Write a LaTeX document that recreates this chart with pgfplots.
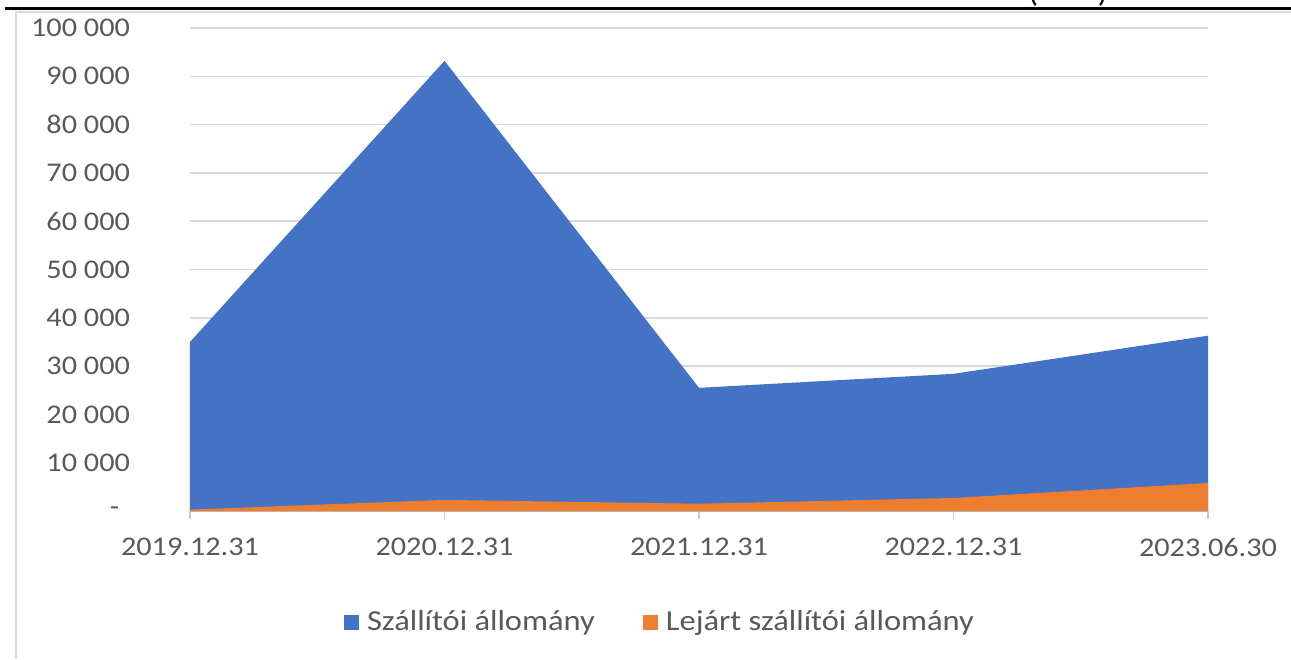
\documentclass[border=0pt]{standalone}
\usepackage{fontspec}
\setmainfont{Carlito}[FakeStretch=1.12]
\usepackage{pgfplots}
\pgfplotsset{compat=1.18}

\definecolor{sblue}{HTML}{4472C4}
\definecolor{sorange}{HTML}{ED7D31}
\definecolor{txt}{HTML}{595959}
\definecolor{gridc}{HTML}{D9D9D9}

\begin{document}
\begin{tikzpicture}
\path[use as bounding box] (0pt,0pt) rectangle (645.5pt,-329.5pt);
% bits of the surrounding page frame
\begin{scope}
  \clip (0pt,0pt) rectangle (645.5pt,-3.5pt);
  \node[anchor=base, font=\fontsize{14}{16}\selectfont, inner sep=0pt] at (534pt,-1pt) {(\hspace{30pt})};
\end{scope}
\draw[line width=1.5pt] (2.5pt,-4pt) -- (645.5pt,-4pt);
\draw[gridc, line width=1pt] (7.5pt,-6pt) -- (645.5pt,-6pt);
\draw[gridc, line width=1pt] (7.75pt,-6pt) -- (7.75pt,-329.5pt);

\begin{axis}[
    at={(95pt,-255.5pt)}, anchor=south west,
    width=509pt, height=241.5pt, scale only axis,
    xmin=0, xmax=4, ymin=0, ymax=100000,
    scaled y ticks=false,
    font=\fontsize{13.5}{16}\selectfont,
    xtick={0,1,2,3,4},
    xticklabels={2019.12.31,2020.12.31,2021.12.31,2022.12.31,2023.06.30},
    ytick={0,10000,20000,30000,40000,50000,60000,70000,80000,90000,100000},
    yticklabels={\makebox[10pt][l]{-},10 000,20 000,30 000,40 000,50 000,60 000,70 000,80 000,90 000,100 000},
    ticklabel style={text=txt},
    yticklabel style={xshift=-22.5pt},
    xticklabel style={yshift=-6pt},
    axis x line*=bottom, axis y line*=left,
    x axis line style={gridc!80!gray, line width=0.8pt, -},
    y axis line style={draw=none},
    ymajorgrids, grid style={gridc, line width=0.8pt},
    tick align=outside, major tick length=4pt,
    xtick style={gridc!80!gray, line width=0.8pt},
    ytick style={draw=none},
    legend style={at={(0.4627,-0.2298)}, anchor=center, draw=none,
        legend columns=2, font=\fontsize{14.5}{17}\selectfont, text=txt,
        /tikz/every odd column/.append style={column sep=2pt},
        /tikz/every even column/.append style={column sep=22pt}},
    legend image code/.code={\fill[#1] (0pt,-3.75pt) rectangle (7.5pt,3.75pt);},
]
\addplot[fill=sblue, draw=none] coordinates {
    (0,35000) (1,93200) (2,25500) (3,28400) (4,36300)} \closedcycle;
\addlegendentry{Szállítói állomány}
\addplot[fill=sorange, draw=none] coordinates {
    (0,300) (1,2300) (2,1500) (3,2700) (4,5800)} \closedcycle;
\addlegendentry{Lejárt szállítói állomány}
\end{axis}
\end{tikzpicture}
\end{document}
